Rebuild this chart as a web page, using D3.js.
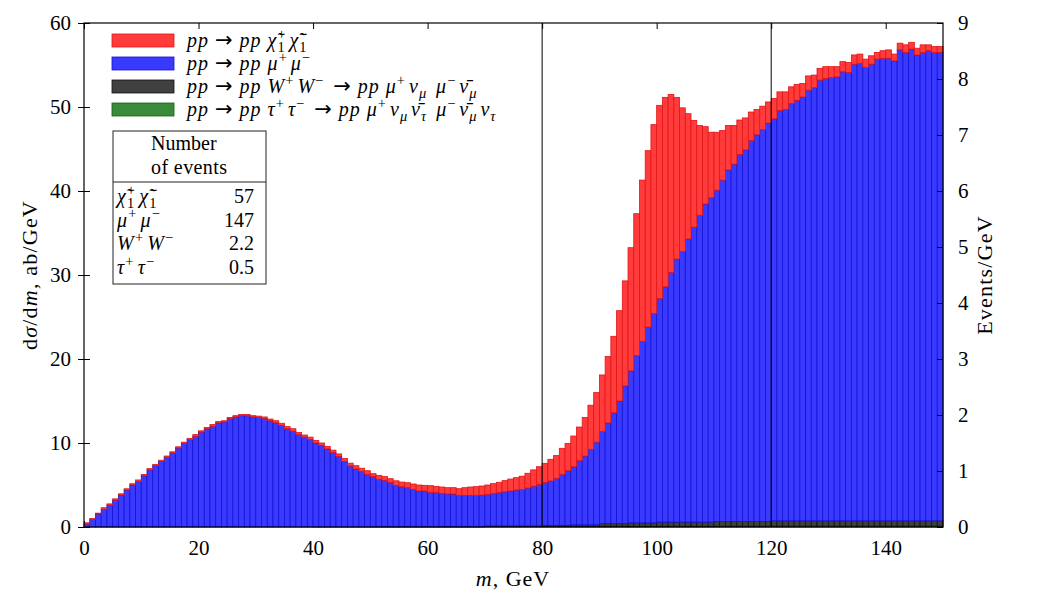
<!DOCTYPE html>
<html>
<head>
<meta charset="utf-8">
<script src="https://cdn.jsdelivr.net/npm/d3@7"></script>
<style>
  body { margin: 0; background: #fff; }
  svg text { font-family: "Liberation Serif", "DejaVu Serif", serif; white-space: pre; }
</style>
</head>
<body>
<script>
// bins of 1 GeV, lower edges 0..149
var binLow = d3.range(0, 150, 1);

var tauVals = [
  0,0,0,0,0,0,0,0,0,0, 0,0,0,0,0,0,0,0,0,0,
  0,0,0,0,0,0,0,0,0,0, 0,0,0,0,0,0,0,0,0,0,
  0.02,0.02,0.02,0.02,0.02,0.02,0.02,0.02,0.02,0.02,
  0.02,0.02,0.02,0.02,0.02,0.02,0.02,0.02,0.02,0.02,
  0.02,0.02,0.02,0.02,0.02,0.02,0.02,0.02,0.02,0.02,
  0.05,0.05,0.05,0.05,0.05,0.05,0.05,0.05,0.05,0.05,
  0.05,0.05,0.05,0.05,0.05,0.05,0.05,0.05,0.05,0.05,
  0.08,0.08,0.08,0.08,0.08,0.08,0.08,0.08,0.08,0.08,
  0.08,0.08,0.08,0.08,0.08,0.08,0.08,0.08,0.08,0.08,
  0.09,0.09,0.09,0.09,0.09,0.09,0.09,0.09,0.09,0.09,
  0.1,0.1,0.1,0.1,0.1,0.1,0.1,0.1,0.1,0.1,
  0.1,0.1,0.1,0.1,0.1,0.1,0.1,0.1,0.1,0.1,
  0.1,0.1,0.1,0.1,0.1,0.1,0.1,0.1,0.1,0.1
];

var wwVals = [
  0,0,0,0,0,0,0,0,0,0, 0,0,0,0,0,0,0,0,0,0,
  0,0,0,0,0,0,0,0,0,0, 0,0,0,0,0,0,0,0,0,0,
  0,0,0,0,0,0,0,0,0,0,
  0.03,0.03,0.03,0.03,0.03,0.03,0.03,0.03,0.03,0.03,
  0.03,0.03,0.03,0.03,0.03,0.03,0.03,0.03,0.03,0.03,
  0.08,0.08,0.08,0.08,0.08,0.08,0.08,0.08,0.08,0.08,
  0.15,0.15,0.15,0.15,0.15,0.22,0.22,0.22,0.22,0.22,
  0.32,0.32,0.32,0.32,0.32,0.42,0.42,0.42,0.42,0.42,
  0.5,0.5,0.5,0.5,0.5,0.5,0.5,0.5,0.5,0.5,
  0.57,0.57,0.57,0.57,0.57,0.57,0.57,0.57,0.57,0.57,
  0.64,0.64,0.64,0.64,0.64,0.64,0.64,0.64,0.64,0.64,
  0.64,0.64,0.64,0.64,0.64,0.64,0.64,0.64,0.64,0.64,
  0.64,0.64,0.64,0.64,0.64,0.64,0.64,0.64,0.64,0.64
];

var mumuVals = [
  0.36,0.9,1.55,2.1,2.6,3.2,3.8,4.4,5.0,5.4,
  6.1,6.8,7.3,7.8,8.3,8.8,9.4,9.96,10.4,10.8,
  11.3,11.7,12.0,12.4,12.5,12.9,13.1,13.25,13.25,13.1,
  13.05,12.9,12.65,12.4,12.1,11.7,11.4,11.0,10.7,10.4,
  9.98,9.68,9.28,8.83,8.38,7.78,7.24,6.88,6.58,6.25,
  5.95,5.62,5.51,5.25,4.91,4.75,4.63,4.43,4.24,4.24,
  4.08,4.05,3.95,3.88,3.88,3.72,3.72,3.72,3.72,3.75,
  3.76,3.84,3.96,4.07,4.16,4.27,4.32,4.52,4.72,4.95,
  5.08,5.28,5.6,6.07,6.5,6.91,7.63,8.18,8.98,9.83,
  10.95,12.0,13.2,14.6,16.4,18.1,19.9,21.6,23.3,24.9,
  26.62,28.02,29.72,31.32,32.22,33.72,35.12,36.52,37.87,38.62,
  39.44,40.64,41.84,42.54,43.69,44.24,45.34,46.04,46.64,47.44,
  47.86,48.86,48.96,49.66,50.06,50.46,51.26,51.56,52.46,52.66,
  52.76,52.86,53.46,53.36,54.36,54.46,53.96,54.36,54.96,55.06,
  55.06,54.76,56.06,55.76,56.16,55.46,55.76,55.96,55.76,55.76
];

var chiVals = [
  0.14,0.1,0.1,0.2,0.15,0.15,0.15,0.15,0.15,0.2,
  0.15,0.15,0.15,0.15,0.15,0.15,0.15,0.14,0.15,0.2,
  0.15,0.15,0.2,0.15,0.15,0.15,0.15,0.15,0.15,0.15,
  0.15,0.2,0.2,0.25,0.25,0.25,0.3,0.25,0.25,0.3,
  0.3,0.3,0.3,0.3,0.3,0.35,0.34,0.4,0.4,0.43,
  0.35,0.48,0.44,0.45,0.54,0.55,0.59,0.64,0.71,0.67,
  0.79,0.74,0.76,0.75,0.75,0.79,0.91,0.99,1.03,1.08,
  1.11,1.19,1.23,1.32,1.42,1.47,1.6,1.75,1.95,2.1,
  2.3,2.58,2.7,3.1,3.26,3.65,4.0,4.6,5.25,5.9,
  6.75,7.9,9.1,10.75,12.5,14.65,16.9,19.2,21.0,22.5,
  23.0,22.55,21.2,19.25,17.1,14.9,12.7,10.7,9.21,7.8,
  6.9,5.9,5.3,4.6,4.1,3.8,3.4,3.0,2.8,2.5,
  2.4,2.2,2.1,2.0,1.9,1.6,1.7,1.5,1.4,1.4,
  1.3,1.2,1.2,1.2,1.1,1.1,1.0,1.0,0.8,0.9,
  1.0,0.8,0.8,0.9,0.8,0.8,0.9,0.7,0.7,0.7
];

var xTicks = [0, 20, 40, 60, 80, 100, 120, 140];
var yTicks = [0, 10, 20, 30, 40, 50, 60];
var y2Ticks = [0, 1, 2, 3, 4, 5, 6, 7, 8, 9];
var cutLines = [80, 120];
var eventCounts = ["57", "147", "2.2", "0.5"];

var keys = ["tau", "ww", "mumu", "chi"];
var fills = { chi: "#ff3b3b", mumu: "#3a3aff", ww: "#404040", tau: "#3a8a3a" };
var strokes = { chi: "#e01515", mumu: "#1212d8", ww: "#111111", tau: "#106010" };

var svgWidth = 1050, svgHeight = 600;
var plotL = 84, plotR = 943, plotT = 23, plotB = 527;
var fs = 21;

var svg = d3.select("body").append("svg")
  .attr("width", svgWidth).attr("height", svgHeight);

var x = d3.scaleLinear().domain([0, 150]).range([plotL, plotR]);
var y = d3.scaleLinear().domain([0, 60]).range([plotB, plotT]);
var y2 = d3.scaleLinear().domain([0, 9]).range([plotB, plotT]);

var rows = binLow.map(function(b, i) {
  return { lo: b, tau: tauVals[i], ww: wwVals[i], mumu: mumuVals[i], chi: chiVals[i] };
});
var series = d3.stack().keys(keys)(rows);

// bottom inner ticks (hidden under bars like the original)
var gB = svg.append("g").attr("transform", "translate(0," + plotB + ")")
  .call(d3.axisBottom(x).tickValues(xTicks).tickSize(-6).tickPadding(13).tickFormat(d3.format("d")));
gB.select(".domain").remove();
gB.selectAll("text").attr("font-size", fs).attr("font-family", null);

// stacked histogram
svg.append("g").selectAll("g").data(series).enter().append("g")
  .attr("fill", function(d) { return fills[d.key]; })
  .attr("stroke", function(d) { return strokes[d.key]; })
  .attr("stroke-width", 0.8)
  .selectAll("rect").data(function(d) { return d; }).enter().append("rect")
  .attr("x", function(d) { return x(d.data.lo); })
  .attr("width", function(d) { return x(d.data.lo + 1) - x(d.data.lo); })
  .attr("y", function(d) { return y(d[1]); })
  .attr("height", function(d) { return Math.max(0, y(d[0]) - y(d[1])); });

// vertical cut lines
svg.append("g").selectAll("line").data(cutLines).enter().append("line")
  .attr("x1", function(d) { return x(d); }).attr("x2", function(d) { return x(d); })
  .attr("y1", plotT).attr("y2", plotB)
  .attr("stroke", "#000").attr("stroke-width", 1);

// left axis, ticks in and out
var gL = svg.append("g").attr("transform", "translate(" + plotL + ",0)")
  .call(d3.axisLeft(y).tickValues(yTicks).tickSize(6).tickPadding(7));
gL.select(".domain").remove();
gL.selectAll("text").attr("font-size", fs).attr("font-family", null);
var gLi = svg.append("g").attr("transform", "translate(" + plotL + ",0)")
  .call(d3.axisRight(y).tickValues(yTicks).tickSize(6).tickFormat(""));
gLi.select(".domain").remove();

// top inner ticks
var gT = svg.append("g").attr("transform", "translate(0," + plotT + ")")
  .call(d3.axisBottom(x).tickValues(xTicks).tickSize(6).tickFormat(""));
gT.select(".domain").remove();

// right axis (events)
var gRi = svg.append("g").attr("transform", "translate(" + plotR + ",0)")
  .call(d3.axisLeft(y2).tickValues(y2Ticks).tickSize(6).tickFormat(""));
gRi.select(".domain").remove();
var gR = svg.append("g").attr("transform", "translate(" + plotR + ",0)")
  .call(d3.axisRight(y2).tickValues(y2Ticks).tickSize(0).tickPadding(15));
gR.select(".domain").remove();
gR.selectAll("text").attr("font-size", fs).attr("font-family", null);

svg.selectAll(".tick line").attr("stroke", "#000");

// frame
svg.append("rect").attr("x", plotL).attr("y", plotT)
  .attr("width", plotR - plotL).attr("height", plotB - plotT)
  .attr("fill", "none").attr("stroke", "#000").attr("stroke-width", 1.2);

// math-ish text helper: segments [text, kind, dxEm]
// kinds: i italic, r roman, a arrow, sup/sub roman, supi/subi italic
function mathText(g, tx, ty, segs, size, anchor, ls) {
  ls = ls || 0;
  var t = g.append("text").attr("x", tx).attr("y", ty).attr("font-size", size)
    .attr("text-anchor", anchor || "start").attr("letter-spacing", ls);
  var cur = 0, gap = 0;
  segs.forEach(function(s) {
    var kind = s[1], off = 0, sz = size, it = (kind === "i");
    var script = false;
    if (kind === "sup" || kind === "supi") { off = -0.42 * size; sz = 0.72 * size; script = true; }
    if (kind === "sub" || kind === "subi") { off = 0.24 * size; sz = 0.72 * size; script = true; }
    if (kind === "supi" || kind === "subi") it = true;
    var ts = t.append("tspan").attr("dy", off - cur).attr("font-size", sz)
      .attr("font-style", it ? "italic" : "normal").text(s[0]);
    if (kind === "a") ts.attr("font-family", "DejaVu Sans").attr("font-size", size * 1.05);
    if (s[2]) ts.attr("dx", s[2] * sz - ls);
    else if (gap) ts.attr("dx", gap);
    gap = script ? 0.15 * size : 0;
    cur = off;
  });
  return t;
}

var chiPair = [["χ̃", "i"], ["1", "sub"], ["+", "sup", -0.5], ["χ̃", "i"], ["1", "sub"], ["−", "sup", -0.5]];
var arrow = [[" ", "r"], ["→", "a"], [" ", "r"]];
var legendLabels = [
  [["pp", "i"]].concat(arrow, [["pp", "i"], [" ", "r"]], chiPair),
  [["pp", "i"]].concat(arrow, [["pp", "i"], [" ", "r"], ["μ", "i"], ["+", "sup"], ["μ", "i"], ["−", "sup"]]),
  [["pp", "i"]].concat(arrow, [["pp", "i"], [" ", "r"], ["W", "i"], ["+", "sup"], ["W", "i"], ["−", "sup"]],
    arrow, [["pp", "i"], [" ", "r"], ["μ", "i"], ["+", "sup"], ["ν", "i"], ["μ", "subi"], [" ", "r"],
    ["μ", "i"], ["−", "sup"], ["ν̄", "i"], ["μ", "subi"]]),
  [["pp", "i"]].concat(arrow, [["pp", "i"], [" ", "r"], ["τ", "i"], ["+", "sup"], ["τ", "i"], ["−", "sup"]],
    arrow, [["pp", "i"], [" ", "r"], ["μ", "i"], ["+", "sup"], ["ν", "i"], ["μ", "subi"], ["ν̄", "i"], ["τ", "subi"], [" ", "r"],
    ["μ", "i"], ["−", "sup"], ["ν̄", "i"], ["μ", "subi"], ["ν", "i"], ["τ", "subi"]])
];
var legendKeys = ["chi", "mumu", "ww", "tau"];

var leg = svg.append("g");
legendKeys.forEach(function(k, i) {
  var ly = 34 + i * 23;
  leg.append("rect").attr("x", 112).attr("y", ly).attr("width", 62).attr("height", 13)
    .attr("fill", fills[k]).attr("stroke", strokes[k]).attr("stroke-width", 0.8);
  mathText(leg, 187, ly + 13, legendLabels[i], 20, "start", 1.0);
});

// events table
var tab = svg.append("g");
tab.append("rect").attr("x", 113).attr("y", 131).attr("width", 153).attr("height", 153)
  .attr("fill", "#fff").attr("stroke", "#222").attr("stroke-width", 1);
tab.append("line").attr("x1", 113).attr("x2", 266).attr("y1", 182).attr("y2", 182)
  .attr("stroke", "#222").attr("stroke-width", 1);
tab.append("text").attr("x", 151).attr("y", 150).attr("font-size", 20).text("Number");
tab.append("text").attr("x", 151).attr("y", 174).attr("font-size", 20).attr("letter-spacing", 0.4).text("of events");
var tableLabels = [
  chiPair,
  [["μ", "i"], ["+", "sup"], ["μ", "i"], ["−", "sup"]],
  [["W", "i"], ["+", "sup"], ["W", "i"], ["−", "sup"]],
  [["τ", "i"], ["+", "sup"], ["τ", "i"], ["−", "sup"]]
];
tableLabels.forEach(function(segs, i) {
  var ty = 203 + i * 23.7;
  mathText(tab, 117, ty, segs, 20, "start", 1.2);
  tab.append("text").attr("x", 254).attr("y", ty).attr("text-anchor", "end").attr("font-size", 20).text(eventCounts[i]);
});

// axis titles
mathText(svg, 513, 586, [["m", "i"], [", GeV", "r"]], 22, "middle", 1);
svg.append("g").attr("transform", "translate(37,275) rotate(-90)")
  .call(function(g) {
    mathText(g, 0, 0, [["d", "r"], ["σ", "i"], ["/d", "r"], ["m", "i"], [", ab/GeV", "r"]], 22, "middle", 1.2);
  });
svg.append("g").attr("transform", "translate(992,275) rotate(-90)")
  .call(function(g) {
    g.append("text").attr("text-anchor", "middle").attr("font-size", 22)
      .attr("letter-spacing", 1.2).text("Events/GeV");
  });
</script>
</body>
</html>
